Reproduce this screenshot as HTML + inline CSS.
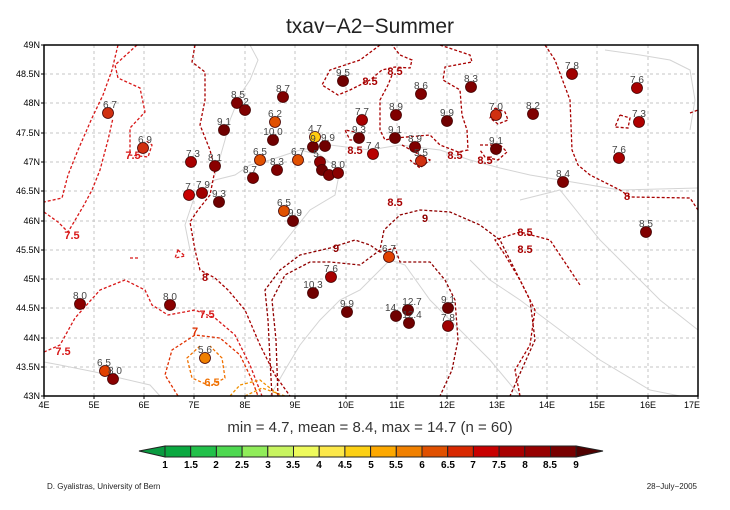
<!DOCTYPE html>
<html><head><meta charset="utf-8"><style>
body{margin:0;background:#fff;}
svg{display:block;font-family:"Liberation Sans",sans-serif;}
</style></head><body>
<svg width="730" height="510" viewBox="0 0 730 510">
<text x="370" y="33" text-anchor="middle" font-size="21" fill="#222">txav−A2−Summer</text>
<g stroke="#c4c4c4" stroke-dasharray="3,3" stroke-width="1">
<line x1="94" y1="45" x2="94" y2="396"/><line x1="144" y1="45" x2="144" y2="396"/><line x1="194" y1="45" x2="194" y2="396"/><line x1="245" y1="45" x2="245" y2="396"/><line x1="295" y1="45" x2="295" y2="396"/><line x1="346" y1="45" x2="346" y2="396"/><line x1="397" y1="45" x2="397" y2="396"/><line x1="447" y1="45" x2="447" y2="396"/><line x1="497" y1="45" x2="497" y2="396"/><line x1="547" y1="45" x2="547" y2="396"/><line x1="597" y1="45" x2="597" y2="396"/><line x1="648" y1="45" x2="648" y2="396"/>
<line x1="44" y1="74" x2="698" y2="74"/><line x1="44" y1="103" x2="698" y2="103"/><line x1="44" y1="133" x2="698" y2="133"/><line x1="44" y1="162" x2="698" y2="162"/><line x1="44" y1="191" x2="698" y2="191"/><line x1="44" y1="221" x2="698" y2="221"/><line x1="44" y1="250" x2="698" y2="250"/><line x1="44" y1="279" x2="698" y2="279"/><line x1="44" y1="308" x2="698" y2="308"/><line x1="44" y1="338" x2="698" y2="338"/><line x1="44" y1="367" x2="698" y2="367"/>
</g>
<g fill="none" stroke="#d4d4d4" stroke-width="1">
<path d="M190,250 L185,225 L195,195 L215,180 L235,175 L250,165 L270,160 L300,150 L330,145 L370,150 L400,145 L440,150 L470,160 L500,168 L530,175 L560,180 L590,185 L620,190 L698,188"/>
<path d="M250,45 L258,60 L250,80 L240,95 L230,120 L225,140 L215,175"/>
<path d="M300,150 L320,155 L340,170 L335,195 L310,210 L290,235 L270,260"/>
<path d="M160,396 L150,385 L120,378 L95,372 L60,365 L44,362"/>
<path d="M270,396 L285,370 L300,345 L320,320 L340,300 L360,290 L370,280 L390,260 L405,265 L430,300 L460,330 L490,360 L520,396"/>
<path d="M470,260 L490,280 L520,300 L560,330 L600,360 L650,390 L680,396"/>
<path d="M520,200 L560,190 L580,215 L600,240 L630,270 L660,300 L698,330"/>
<path d="M605,50 L640,55 L670,60 L690,70 L695,100 L690,130"/>
</g>
<g fill="none" stroke-dasharray="3,2" stroke-width="1.3">
<path stroke="#d81818" d="M118,45 L112,70 L103,95 L92,118 L78,150 L68,175 L62,198 L44,202"/>
<path stroke="#d81818" d="M44,212 L58,222 L68,232 L74,222 L84,205 L92,190 L100,170 L108,140 L113,118"/>
<path stroke="#d81818" d="M137,45 L115,65 L118,78 L140,88 L145,112 L130,128 L130,155 L148,157 L152,145 L145,140"/>
<path stroke="#d81818" d="M44,352 L60,345 L75,318 L100,290 L125,280 L145,290 L152,305 L168,315 L195,310 L215,318 L235,335 L250,365 L262,396"/>
<path stroke="#a80000" d="M195,45 L192,62 L205,72 L205,100 L200,125 L210,150 L215,170 L210,195 L198,210 L190,222 L195,250 L200,270 L215,278 L228,290 L245,310 L260,345 L275,375 L290,396"/>
<path stroke="#e03000" d="M178,396 L165,375 L172,350 L195,335 L220,338 L240,355 L252,380 L258,396"/>
<path stroke="#f07000" d="M200,346 L187,358 L192,378 L210,386 L225,378 L222,358 L210,346"/>
<path stroke="#f09000" d="M230,396 L240,385 L260,380 L280,396 M245,396 L262,388 L285,396"/>
<path stroke="#900000" d="M272,396 L270,360 L268,320 L265,290 L280,270 L300,255 L330,248 L355,240 L370,245 L380,252 L395,248 L400,262 L430,262 L445,280 L455,300 L458,340 L452,370 L440,396"/>
<path stroke="#900000" d="M278,396 L276,340 L272,300 L285,275 L310,262 L330,262 L360,265 L380,250 L384,230 L400,215 L420,210 L450,212 L480,225 L500,240 L510,260 L530,300 L535,340 L526,360 L510,396"/>
<path stroke="#a80000" d="M520,396 L515,370 L530,345 L535,310 L520,280 L505,255 L495,240 L520,232 L550,240 L570,270 L580,285"/>
<path stroke="#a80000" d="M545,45 L555,60 L570,100 L572,150 L578,165 L590,175 L620,190 L630,197 L690,198 L698,210"/>
<path stroke="#a80000" d="M380,45 L360,60 L330,70 L322,85 L338,95 L350,90 L370,80 L382,70 L395,67 L410,68 L412,60 L400,55 L392,45"/>
<path stroke="#a80000" d="M440,45 L470,55 L472,62 L445,67 L443,80 L460,90 L462,115 L467,130 L468,150 L458,152 L448,148 L440,145 L430,135 L395,138 L385,140 L380,130 L380,100 L388,85 L392,75"/>
<path stroke="#a80000" d="M495,108 L505,112 L508,120 L498,124 L490,118 L495,108 M480,145 L500,145 L507,152 L498,160 L485,157 L480,150"/>
<path stroke="#a80000" d="M360,140 L355,132 L345,130 L350,140 L360,140 M402,145 L420,155 L430,160 L420,168 L410,160"/>
<path stroke="#a80000" d="M620,115 L630,118 L628,128 L615,127 L620,115 M690,113 L698,110"/>
<path stroke="#d81818" d="M130,258 L138,258 M178,250 L185,256 L175,258 Z"/>
</g>
<g font-size="11" font-weight="bold" text-anchor="middle">
<text x="72" y="239" fill="#d81818">7.5</text>
<text x="63" y="355" fill="#d81818">7.5</text>
<text x="133" y="159" fill="#d81818">7.5</text>
<text x="207" y="318" fill="#d81818">7.5</text>
<text x="205" y="281" fill="#a80000">8</text>
<text x="195" y="335" fill="#e03000">7</text>
<text x="212" y="386" fill="#f07000">6.5</text>
<text x="336" y="252" fill="#900000">9</text>
<text x="425" y="222" fill="#900000">9</text>
<text x="395" y="206" fill="#a80000">8.5</text>
<text x="525" y="236" fill="#a80000">8.5</text>
<text x="525" y="253" fill="#a80000">8.5</text>
<text x="627" y="200" fill="#a80000">8</text>
<text x="395" y="75" fill="#a80000">8.5</text>
<text x="370" y="85" fill="#a80000">8.5</text>
<text x="455" y="159" fill="#a80000">8.5</text>
<text x="485" y="164" fill="#a80000">8.5</text>
<text x="355" y="154" fill="#a80000">8.5</text>
</g>
<g stroke="#400" stroke-width="0.8">
<circle cx="108" cy="113" r="5.5" fill="#d03010"/>
<circle cx="143" cy="148" r="5.5" fill="#d03010"/>
<circle cx="191" cy="162" r="5.5" fill="#a80000"/>
<circle cx="215" cy="166" r="5.5" fill="#8a0000"/>
<circle cx="189" cy="195" r="5.5" fill="#c80000"/>
<circle cx="202" cy="193" r="5.5" fill="#a00000"/>
<circle cx="219" cy="202" r="5.5" fill="#700000"/>
<circle cx="224" cy="130" r="5.5" fill="#700000"/>
<circle cx="237" cy="103" r="5.5" fill="#800000"/>
<circle cx="245" cy="110" r="5.5" fill="#800000"/>
<circle cx="283" cy="97" r="5.5" fill="#800000"/>
<circle cx="275" cy="122" r="5.5" fill="#e05000"/>
<circle cx="273" cy="140" r="5.5" fill="#700000"/>
<circle cx="260" cy="160" r="5.5" fill="#e05000"/>
<circle cx="277" cy="170" r="5.5" fill="#800000"/>
<circle cx="253" cy="178" r="5.5" fill="#800000"/>
<circle cx="298" cy="160" r="5.5" fill="#e05000"/>
<circle cx="313" cy="147" r="5.5" fill="#700000"/>
<circle cx="325" cy="146" r="5.5" fill="#700000"/>
<circle cx="320" cy="162" r="5.5" fill="#900000"/>
<circle cx="322" cy="170" r="5.5" fill="#700000"/>
<circle cx="329" cy="175" r="5.5" fill="#800000"/>
<circle cx="338" cy="173" r="5.5" fill="#8a0000"/>
<circle cx="315" cy="137" r="5.5" fill="#ffcc10"/>
<circle cx="284" cy="211" r="5.5" fill="#e05000"/>
<circle cx="293" cy="221" r="5.5" fill="#700000"/>
<circle cx="343" cy="81" r="5.5" fill="#700000"/>
<circle cx="362" cy="120" r="5.5" fill="#a80000"/>
<circle cx="359" cy="138" r="5.5" fill="#700000"/>
<circle cx="373" cy="154" r="5.5" fill="#b80000"/>
<circle cx="396" cy="115" r="5.5" fill="#800000"/>
<circle cx="395" cy="138" r="5.5" fill="#700000"/>
<circle cx="415" cy="147" r="5.5" fill="#800000"/>
<circle cx="421" cy="161" r="5.5" fill="#d03010"/>
<circle cx="421" cy="94" r="5.5" fill="#800000"/>
<circle cx="447" cy="121" r="5.5" fill="#700000"/>
<circle cx="471" cy="87" r="5.5" fill="#800000"/>
<circle cx="496" cy="115" r="5.5" fill="#d03010"/>
<circle cx="496" cy="149" r="5.5" fill="#700000"/>
<circle cx="533" cy="114" r="5.5" fill="#800000"/>
<circle cx="572" cy="74" r="5.5" fill="#a00000"/>
<circle cx="637" cy="88" r="5.5" fill="#a80000"/>
<circle cx="639" cy="122" r="5.5" fill="#b00000"/>
<circle cx="619" cy="158" r="5.5" fill="#a80000"/>
<circle cx="563" cy="182" r="5.5" fill="#800000"/>
<circle cx="646" cy="232" r="5.5" fill="#800000"/>
<circle cx="389" cy="257" r="5.5" fill="#e04000"/>
<circle cx="331" cy="277" r="5.5" fill="#a80000"/>
<circle cx="313" cy="293" r="5.5" fill="#700000"/>
<circle cx="347" cy="312" r="5.5" fill="#700000"/>
<circle cx="396" cy="316" r="5.5" fill="#700000"/>
<circle cx="408" cy="310" r="5.5" fill="#700000"/>
<circle cx="409" cy="323" r="5.5" fill="#700000"/>
<circle cx="448" cy="308" r="5.5" fill="#700000"/>
<circle cx="448" cy="326" r="5.5" fill="#a00000"/>
<circle cx="80" cy="304" r="5.5" fill="#8a0000"/>
<circle cx="170" cy="305" r="5.5" fill="#8a0000"/>
<circle cx="205" cy="358" r="5.5" fill="#f08000"/>
<circle cx="105" cy="371" r="5.5" fill="#e04000"/>
<circle cx="113" cy="379" r="5.5" fill="#8a0000"/>
</g>
<g font-size="10" fill="#444" text-anchor="middle">
<text x="110" y="108">6.7</text><text x="145" y="143">6.9</text><text x="193" y="157">7.3</text><text x="215" y="161">8.1</text>
<text x="188" y="190">7</text><text x="203" y="188">7.9</text><text x="219" y="197">9.3</text><text x="224" y="125">9.1</text>
<text x="238" y="98">8.5</text><text x="246" y="105">2</text><text x="283" y="92">8.7</text><text x="275" y="117">6.2</text>
<text x="273" y="135">10.0</text><text x="260" y="155">6.5</text><text x="277" y="165">8.3</text><text x="250" y="173">8.7</text>
<text x="298" y="155">6.7</text><text x="313" y="142">9</text><text x="328" y="141">9.9</text><text x="315" y="132">4.7</text>
<text x="316" y="157">5</text><text x="338" y="168">8.0</text><text x="284" y="206">6.5</text><text x="295" y="216">9.9</text>
<text x="343" y="76">9.5</text><text x="362" y="115">7.7</text><text x="359" y="133">9.3</text><text x="373" y="149">7.4</text>
<text x="396" y="110">8.9</text><text x="395" y="133">9.1</text><text x="415" y="142">8.9</text><text x="421" y="156">5.5</text>
<text x="421" y="89">8.6</text><text x="447" y="116">9.9</text><text x="471" y="82">8.3</text><text x="496" y="110">7.0</text>
<text x="496" y="144">9.1</text><text x="533" y="109">8.2</text><text x="572" y="69">7.8</text><text x="637" y="83">7.6</text>
<text x="639" y="117">7.3</text><text x="619" y="153">7.6</text><text x="563" y="177">8.4</text><text x="646" y="227">8.5</text>
<text x="389" y="252">6.7</text><text x="331" y="272">7.6</text><text x="313" y="288">10.3</text><text x="347" y="307">9.9</text>
<text x="392" y="311">14.</text><text x="412" y="305">12.7</text><text x="412" y="318">12.4</text><text x="448" y="303">9.1</text>
<text x="448" y="321">7.8</text><text x="80" y="299">8.0</text><text x="170" y="300">8.0</text><text x="205" y="353">5.6</text>
<text x="104" y="366">6.5</text><text x="115" y="374">8.0</text>
</g>
<rect x="44" y="45" width="654" height="351" fill="none" stroke="#000" stroke-width="1.5"/>
<g stroke="#000" stroke-width="1">
<path d="M44,396v3M94,396v3M144,396v3M194,396v3M245,396v3M295,396v3M346,396v3M397,396v3M447,396v3M497,396v3M547,396v3M597,396v3M648,396v3M698,396v3"/>
<path d="M41,45h3M41,74h3M41,103h3M41,133h3M41,162h3M41,191h3M41,221h3M41,250h3M41,279h3M41,308h3M41,338h3M41,367h3M41,396h3"/>
</g>
<g font-size="9" fill="#000" text-anchor="middle">
<text x="44" y="408">4E</text><text x="94" y="408">5E</text><text x="144" y="408">6E</text><text x="194" y="408">7E</text><text x="245" y="408">8E</text><text x="295" y="408">9E</text><text x="346" y="408">10E</text><text x="397" y="408">11E</text><text x="447" y="408">12E</text><text x="497" y="408">13E</text><text x="547" y="408">14E</text><text x="597" y="408">15E</text><text x="648" y="408">16E</text><text x="692" y="408">17E</text>
</g>
<g font-size="9" fill="#000" text-anchor="end">
<text x="40" y="48">49N</text><text x="40" y="77">48.5N</text><text x="40" y="106">48N</text><text x="40" y="136">47.5N</text><text x="40" y="165">47N</text><text x="40" y="194">46.5N</text><text x="40" y="224">46N</text><text x="40" y="253">45.5N</text><text x="40" y="282">45N</text><text x="40" y="311">44.5N</text><text x="40" y="341">44N</text><text x="40" y="370">43.5N</text><text x="40" y="399">43N</text>
</g>
<text x="370" y="432" text-anchor="middle" font-size="15" fill="#333">min = 4.7, mean = 8.4, max = 14.7 (n = 60)</text>
<g stroke="#222" stroke-width="1">
<polygon points="139,451 165,446 165,457" fill="#0a9a40"/>
<rect x="165" y="446" width="25.7" height="11" fill="#0aa840"/>
<rect x="190.7" y="446" width="25.7" height="11" fill="#22c04a"/>
<rect x="216.4" y="446" width="25.7" height="11" fill="#4ed850"/>
<rect x="242.1" y="446" width="25.7" height="11" fill="#90ec5a"/>
<rect x="267.8" y="446" width="25.7" height="11" fill="#c8f460"/>
<rect x="293.5" y="446" width="25.7" height="11" fill="#eefa5c"/>
<rect x="319.2" y="446" width="25.7" height="11" fill="#fce84a"/>
<rect x="344.9" y="446" width="25.7" height="11" fill="#fcd014"/>
<rect x="370.6" y="446" width="25.7" height="11" fill="#fca800"/>
<rect x="396.3" y="446" width="25.7" height="11" fill="#f08000"/>
<rect x="422" y="446" width="25.7" height="11" fill="#e05000"/>
<rect x="447.7" y="446" width="25.7" height="11" fill="#d82800"/>
<rect x="473.4" y="446" width="25.7" height="11" fill="#c80000"/>
<rect x="499.1" y="446" width="25.7" height="11" fill="#a80000"/>
<rect x="524.8" y="446" width="25.7" height="11" fill="#960000"/>
<rect x="550.5" y="446" width="25.7" height="11" fill="#780000"/>
<polygon points="576.2,446 603,451 576.2,457" fill="#500000"/>
</g>
<g font-size="10" font-weight="bold" fill="#000" text-anchor="middle">
<text x="165" y="468">1</text><text x="191" y="468">1.5</text><text x="216" y="468">2</text><text x="242" y="468">2.5</text><text x="268" y="468">3</text><text x="293" y="468">3.5</text><text x="319" y="468">4</text><text x="345" y="468">4.5</text><text x="371" y="468">5</text><text x="396" y="468">5.5</text><text x="422" y="468">6</text><text x="448" y="468">6.5</text><text x="473" y="468">7</text><text x="499" y="468">7.5</text><text x="525" y="468">8</text><text x="550" y="468">8.5</text><text x="576" y="468">9</text>
</g>
<text x="47" y="489" font-size="8" fill="#222">D. Gyalistras, University of Bern</text>
<text x="697" y="489" font-size="8" fill="#222" text-anchor="end">28−July−2005</text>
</svg>
</body></html>
